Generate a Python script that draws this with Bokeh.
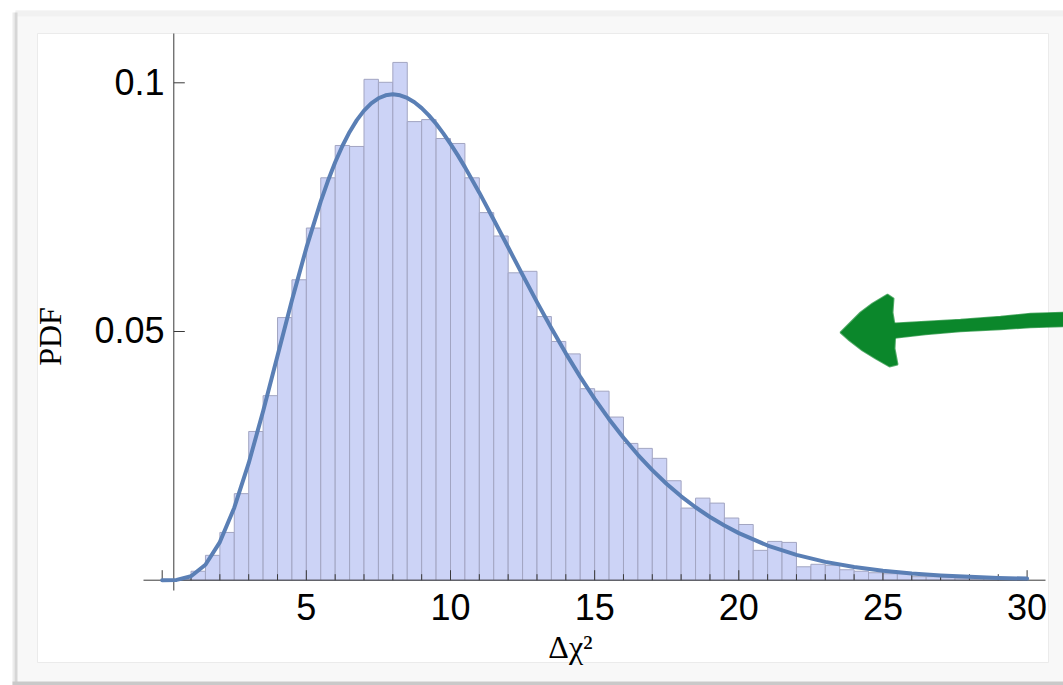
import numpy as np
from bokeh.plotting import figure
from bokeh.models import Range1d, ColumnDataSource
from bokeh.core.properties import value
from bokeh.embed import file_html
from bokeh.resources import INLINE

# ---- data -------------------------------------------------------------
BIN_WIDTH = 0.5
BIN_LEFT = np.arange(0.0, 30.0, BIN_WIDTH)
# normalised counts per bin (density)
DENSITY = [
    0.0000, 0.0002, 0.0018, 0.0050, 0.0096, 0.0174, 0.0299, 0.0371, 0.0528, 0.0604,
    0.0708, 0.0809, 0.0874, 0.0872, 0.1007, 0.1001, 0.1041, 0.0922, 0.0926, 0.0888,
    0.0878, 0.0809, 0.0739, 0.0692, 0.0618, 0.0621, 0.0530, 0.0480, 0.0455, 0.0385,
    0.0380, 0.0328, 0.0275, 0.0265, 0.0245, 0.0200, 0.0145, 0.0165, 0.0155, 0.0125,
    0.0112, 0.0060, 0.0078, 0.0076, 0.0027, 0.0032, 0.0030, 0.0021, 0.0018, 0.0015,
    0.0013, 0.0013, 0.0007, 0.0007, 0.0005, 0.0004, 0.0003, 0.0003, 0.0002, 0.0001,
]

# reference PDF curve
CURVE_X = [0, 0.5, 1, 1.5, 2, 2.5, 3, 3.5, 4, 4.5, 5, 5.5, 5.75, 6, 6.25, 6.5,
           6.75, 7, 7.25, 7.5, 7.75, 8, 8.25, 8.5, 8.75, 9, 9.25, 9.5, 9.75, 10,
           10.25, 10.5, 11, 11.5, 12, 12.5, 13, 13.5, 14, 14.5, 15, 15.5, 16,
           16.5, 17, 17.5, 18, 18.5, 19, 19.5, 20, 21, 22, 23, 24, 25, 26, 27, 28,
           29, 30]
CURVE_Y = [0.0, 0.00006, 0.00079, 0.00311, 0.00766, 0.01457, 0.02353, 0.03395,
           0.04511, 0.05628, 0.06680, 0.07617, 0.08030, 0.08402, 0.08730, 0.09012,
           0.09249, 0.09441, 0.09587, 0.09689, 0.09749, 0.09768, 0.09749, 0.09695,
           0.09608, 0.09490, 0.09345, 0.09176, 0.08984, 0.08773,
           0.08546, 0.08305, 0.07791, 0.07248,
           0.06693, 0.06137, 0.05591, 0.05064, 0.04561, 0.04088, 0.03646, 0.03237,
           0.02863, 0.02521, 0.02213, 0.01935, 0.01687, 0.01466, 0.01270, 0.01098,
           0.00946, 0.00697, 0.00509, 0.00369, 0.00265, 0.00190, 0.00135, 0.00095,
           0.00067, 0.00046, 0.00032]

X_MAJOR = [0, 5, 10, 15, 20, 25, 30]
X_LABELS = ["", "5", "10", "15", "20", "25", "30"]
X_MINOR = [v for v in range(1, 30) if v % 5 != 0]
Y_TICKS = [0.05, 0.1]
Y_LABELS = ["0.05", "0.1"]

# ---- canvas geometry (pixel <-> data) ---------------------------------
W, H = 1063, 685
X0_PX, X_SCALE = 161.7, 28.83      # x = 0 position, px per unit
Y0_PX, Y_SCALE = 579.7, 4974.0     # y = 0 position, px per unit
BASE_SHIFT = 0.39                  # svg baseline offset, in em


def fx(px):
    return (px - X0_PX) / X_SCALE


def fy(py):
    return (Y0_PX - py) / Y_SCALE


p = figure(width=W, height=H, title=None, toolbar_location=None,
           output_backend="svg", x_axis_location=None, y_axis_location=None,
           x_range=Range1d(fx(0), fx(W)), y_range=Range1d(fy(H), fy(0)),
           min_border=0, min_border_left=0, min_border_right=0,
           min_border_top=0, min_border_bottom=0)
p.grid.visible = False
p.outline_line_color = None
p.background_fill_color = "white"
p.border_fill_color = "white"

# ---- panel frame with soft shadow -------------------------------------
p.quad(left=[fx(15)], right=[fx(W)], top=[fy(10)], bottom=[fy(683)],
       fill_color="#f8f8f8", line_color=None)
p.quad(left=[fx(15)], right=[fx(W)], top=[fy(10)], bottom=[fy(16)],
       fill_color="#f1f1f1", line_color=None)
p.quad(left=[fx(12)], right=[fx(14)], top=[fy(12)], bottom=[fy(H)],
       fill_color="#ececec", line_color=None)
p.quad(left=[fx(14)], right=[fx(17)], top=[fy(12)], bottom=[fy(H)],
       fill_color="#d6d6d6", line_color=None)
p.quad(left=[fx(12)], right=[fx(W)], top=[fy(681)], bottom=[fy(H)],
       fill_color="#c9c9c9", line_color=None)
p.quad(left=[fx(37)], right=[fx(1048)], top=[fy(33)], bottom=[fy(662)],
       fill_color="white", line_color="#ebebeb", line_width=1)

# ---- histogram --------------------------------------------------------
hist = ColumnDataSource(dict(left=BIN_LEFT, right=BIN_LEFT + BIN_WIDTH,
                             top=DENSITY, bottom=[0.0] * len(DENSITY)))
p.quad(left="left", right="right", top="top", bottom="bottom", source=hist,
       fill_color="#ccd3f6", line_color="#a2a5c2", line_width=1)

# ---- axes -------------------------------------------------------------
axis_col = "#3a3a3a"
p.segment(x0=[fx(143)], x1=[fx(1045)], y0=[0], y1=[0],
          line_color=axis_col, line_width=1)
y_axis_x = fx(173.3)
p.segment(x0=[y_axis_x], x1=[y_axis_x], y0=[fy(33)], y1=[fy(590)],
          line_color=axis_col, line_width=1)

p.segment(x0=X_MAJOR, x1=X_MAJOR, y0=[0] * len(X_MAJOR),
          y1=[10 / Y_SCALE] * len(X_MAJOR), line_color=axis_col, line_width=1)
p.segment(x0=X_MINOR, x1=X_MINOR, y0=[0] * len(X_MINOR),
          y1=[6 / Y_SCALE] * len(X_MINOR), line_color=axis_col, line_width=1)
p.segment(x0=[y_axis_x] * len(Y_TICKS), x1=[y_axis_x + 11 / X_SCALE] * len(Y_TICKS),
          y0=Y_TICKS, y1=Y_TICKS, line_color=axis_col, line_width=1)

# ---- PDF curve --------------------------------------------------------
p.line(CURVE_X, CURVE_Y, line_color="#5a7fb5", line_width=4,
       line_join="round", line_cap="round")

# ---- tick labels and axis titles --------------------------------------
TICK_FS = 36
p.text(x=X_MAJOR, y=[fy(621 - BASE_SHIFT * TICK_FS)] * len(X_MAJOR), text=X_LABELS,
       text_font=value("Liberation Sans"), text_font_size=f"{TICK_FS}px",
       text_align="center", text_baseline="alphabetic", text_color="black")
p.text(x=[fx(164)] * len(Y_TICKS),
       y=[t - (13 - BASE_SHIFT * TICK_FS) / Y_SCALE for t in Y_TICKS],
       text=Y_LABELS, text_font=value("Liberation Sans"),
       text_font_size=f"{TICK_FS}px",
       text_align="right", text_baseline="alphabetic", text_color="black")
LAB_FS = 32
p.text(x=[fx(62 - BASE_SHIFT * LAB_FS)], y=[fy(336)], text=["PDF"], angle=np.pi / 2,
       text_font=value("Liberation Serif"), text_font_size=f"{LAB_FS}px",
       text_align="center", text_baseline="alphabetic", text_color="black")
XLAB_FS = 32
p.text(x=[fx(570)], y=[fy(659 - BASE_SHIFT * XLAB_FS)], text=["Δχ²"],
       text_font=value("Liberation Serif"), text_font_size=f"{XLAB_FS}px",
       text_align="center", text_baseline="alphabetic", text_color="black")

# ---- hand-drawn green arrow -------------------------------------------
green = "#0b872b"
head_px = [(840, 332), (848, 324), (860, 312), (872, 303), (887, 294),
           (893, 298), (892, 312), (895, 330), (894, 348), (897, 364),
           (889, 366), (875, 358), (862, 350), (849, 340)]
shaft_px = [(890, 323), (925, 321), (960, 319), (1000, 316), (1030, 313),
            (1063, 312), (1063, 326), (1030, 327), (1000, 329), (960, 331),
            (925, 334), (890, 338)]
p.patch([fx(a) for a, _ in shaft_px], [fy(b) for _, b in shaft_px],
        fill_color=green, line_color=green, line_width=1.5, line_alpha=0.7)
p.patch([fx(a) for a, _ in head_px], [fy(b) for _, b in head_px],
        fill_color=green, line_color=green, line_width=2, line_alpha=0.7)

open("out.html", "w").write(file_html(p, INLINE))
